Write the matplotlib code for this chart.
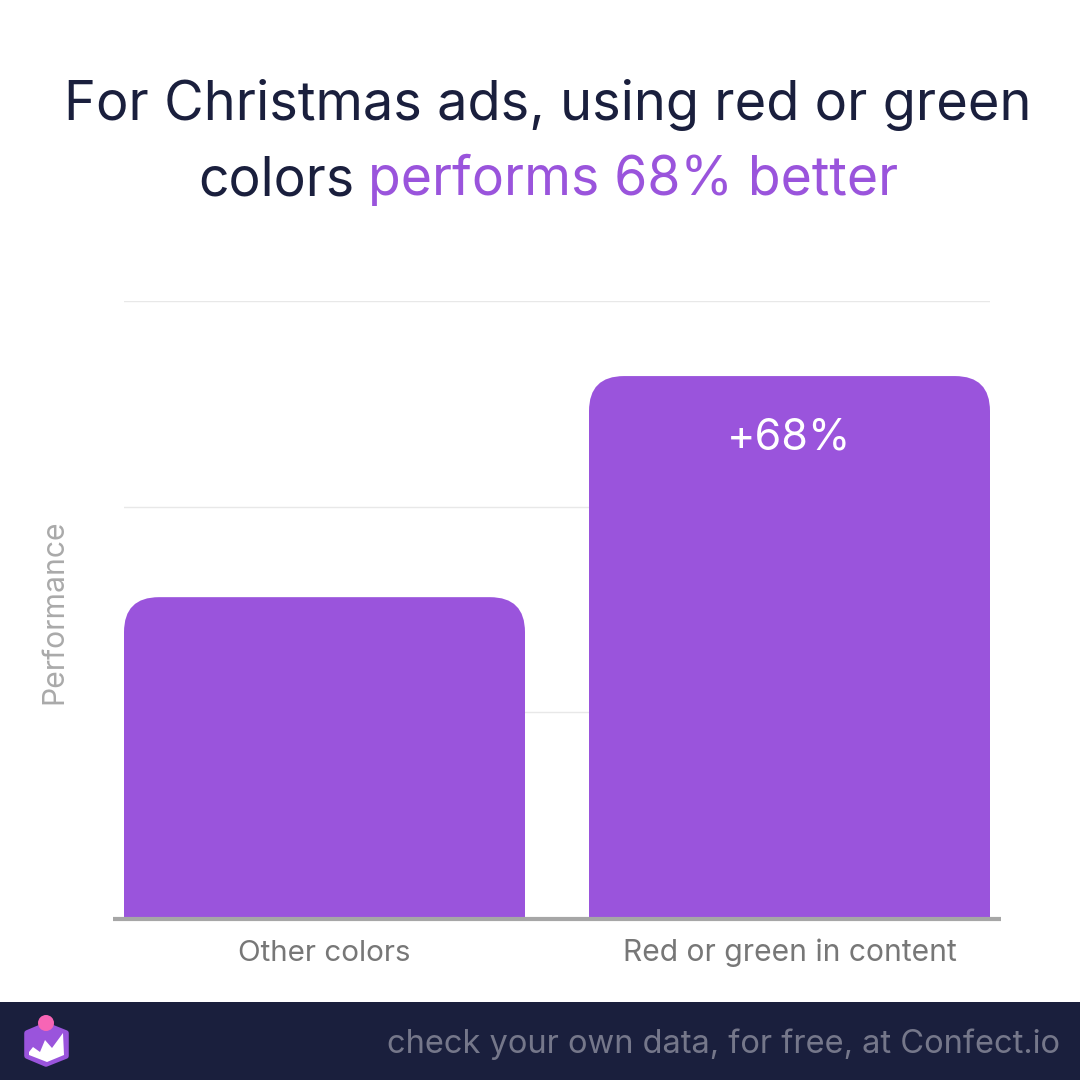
import matplotlib
matplotlib.use('Agg')
import matplotlib.pyplot as plt
from matplotlib.patches import FancyBboxPatch, Polygon, Circle, Rectangle

# Datos
categories = ['Other colors', 'Red or green in content']
values = [62.4, 105.4]
y_ticks = [0, 40, 80, 120]
bar_label = '+68%'

PURPLE = '#9a54dc'
NAVY = '#1a1f3d'
GREY = '#777777'

plt.rcParams['font.family'] = ['Inter', 'DejaVu Sans']

fig = plt.figure(figsize=(10.8, 10.8), dpi=100, facecolor='white')

# Capa superior en coordenadas de pixel
bg = fig.add_axes([0, 0, 1, 1], zorder=2)
bg.set_xlim(0, 1080)
bg.set_ylim(1080, 0)
bg.axis('off')

# Titulo
bg.text(548, 120, 'For Christmas ads, using red or green', ha='center', va='baseline',
        fontsize=39, color=NAVY)
bg.text(198, 195, 'colors', ha='left', va='baseline', fontsize=38.5, color=NAVY)
bg.text(368, 195, 'performs 68% better', ha='left', va='baseline', fontsize=38.5, color=PURPLE)

# Barras
ax = fig.add_axes([124 / 1080, (1080 - 918) / 1080, 866 / 1080, 617 / 1080], zorder=1)
ax.patch.set_alpha(0)
ax.set_xlim(0, 866)
ax.set_ylim(0, 120)
ax.set_yticks(y_ticks)
ax.grid(axis='y', color='#e8e8e8', lw=1)
ax.set_axisbelow(True)
ax.tick_params(left=False, bottom=False, labelleft=False, labelbottom=False)
for s in ax.spines.values():
    s.set_visible(False)

bar_w = 401
lefts = [0, 465]
sy = 120 / 617
for left, val in zip(lefts, values):
    # Solo se redondea arriba: la base queda recortada por el eje
    p = FancyBboxPatch((left, -20), bar_w, val + 20,
                       boxstyle='round,pad=0,rounding_size=35',
                       mutation_aspect=sy, fc=PURPLE, ec='none', zorder=3)
    ax.add_patch(p)

# Eje base
bg.plot([113, 1001], [918.5, 918.5], color='#a6a6a6', lw=3, solid_capstyle='butt', zorder=5)

# Etiquetas
for left, cat, size in zip(lefts, categories, [21.3, 21.6]):
    bg.text(124 + left + bar_w / 2, 961, cat, ha='center', va='baseline', fontsize=size, color=GREY)
bg.text(789, 449, bar_label, ha='center', va='baseline', fontsize=31, color='white', zorder=6)
bg.text(54, 612, 'Performance', rotation=90, ha='center', va='center', fontsize=21.7, color='#aaaaaa')

# Pie
bg.add_patch(Rectangle((0, 1002), 1080, 78, fc=NAVY, ec='none'))
bg.text(1060, 1053, 'check your own data, for free, at Confect.io', ha='right', va='baseline',
        fontsize=23.5, color='#75778a')

# Logo
bg.add_patch(Polygon([(46, 1025), (66, 1033), (66, 1056), (46, 1064), (27, 1056), (27, 1033)],
                     closed=True, fc='#9a54dc', ec='#9a54dc', lw=4, joinstyle='round'))
bg.add_patch(Polygon([(29, 1052), (33, 1047), (40, 1052), (45, 1040), (52, 1048), (63, 1033),
                      (64, 1055), (47, 1062), (29, 1055)],
                     closed=True, fc='white', ec='none'))
bg.add_patch(Circle((46, 1023), 8, fc='#f765b5', ec='none'))

fig.savefig('out.png', dpi=100)
